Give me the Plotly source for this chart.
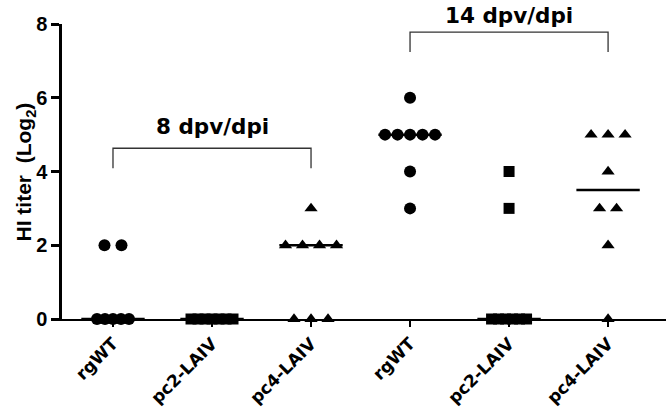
import numpy as np
import plotly.graph_objects as go

# ---- data ----
categories = ["rgWT", "pc2-LAIV", "pc4-LAIV", "rgWT", "pc2-LAIV", "pc4-LAIV"]
rgwt_8 = [2, 2, 0, 0, 0, 0, 0]
pc2_8 = [0, 0, 0, 0, 0, 0, 0]
pc4_8 = [3, 2, 2, 2, 2, 0, 0, 0]
rgwt_14 = [6, 5, 5, 5, 5, 5, 4, 3]
pc2_14 = [4, 3, 0, 0, 0, 0, 0, 0]
pc4_14 = [5, 5, 5, 4, 3, 3, 2, 0]
groups = [rgwt_8, pc2_8, pc4_8, rgwt_14, pc2_14, pc4_14]
symbols = ["circle", "square", "triangle-up", "circle", "square", "triangle-up"]
bracket_labels = ["8 dpv/dpi", "14 dpv/dpi"]
y_ticks = [0, 2, 4, 6, 8]

# ---- style ----
PX_PER_UNIT = 99.0
default_spacing_px = 17
spacing_override_px = {(0, 0): 8, (1, 0): 7, (3, 5): 12.5, (4, 0): 7}
marker_sizes = {"circle": 12, "square": 11, "triangle-up": 11.5}
FONT_WIDE = "DejaVu Sans, Verdana, sans-serif"
FONT = "Liberation Sans, Arial, sans-serif"


def spread(gi, values):
    vals = np.array(values, dtype=float)
    xs = np.zeros(len(vals))
    for v in np.unique(vals):
        idx = np.where(vals == v)[0]
        n = len(idx)
        sp = spacing_override_px.get((gi, v), default_spacing_px) / PX_PER_UNIT
        xs[idx] = gi + (np.arange(n) - (n - 1) / 2) * sp
    return xs, vals


fig = go.Figure()
# median lines first, so points sit on top of them
for gi, vals in enumerate(groups):
    med = float(np.median(vals))
    fig.add_trace(go.Scatter(
        x=[gi - 0.32, gi + 0.32], y=[med, med], mode="lines",
        cliponaxis=med <= 0, showlegend=False,
        line=dict(color="black", width=2.5)))
for gi, (vals, sym) in enumerate(zip(groups, symbols)):
    xs, ys = spread(gi, vals)
    fig.add_trace(go.Scatter(
        x=xs, y=ys, mode="markers", cliponaxis=False, showlegend=False,
        marker=dict(symbol=sym, size=marker_sizes[sym], color="black",
                    line=dict(width=0))))

# brackets (x0, x1, top, bottom in data units; label centre in paper units)
brackets = [(0, 2, 4.63, 4.09, 0.651), (3, 5, 7.78, 7.24, 1.0305)]
for (x0, x1, ytop, ybot, ytxt), lab in zip(brackets, bracket_labels):
    fig.add_trace(go.Scatter(
        x=[x0, x0, x1, x1], y=[ybot, ytop, ytop, ybot], mode="lines",
        cliponaxis=False, showlegend=False, hoverinfo="skip",
        line=dict(color="#333333", width=1.3)))
    fig.add_annotation(x=(x0 + x1) / 2, y=ytxt, xref="x", yref="paper",
                       text="<b>%s</b>" % lab, showarrow=False,
                       xanchor="center", yanchor="middle",
                       font=dict(family=FONT_WIDE, size=21.5, color="black"))

fig.add_annotation(x=-0.0613, y=0.5, xref="paper", yref="paper",
                   text="<b>HI titer &nbsp;(Log<sub>2</sub>)</b>", textangle=-90,
                   showarrow=False, xanchor="center", yanchor="middle",
                   font=dict(family=FONT, size=21, color="black"))

fig.update_layout(
    width=666, height=420,
    margin=dict(l=62, r=0, t=24, b=101),
    paper_bgcolor="white", plot_bgcolor="white",
    font=dict(family=FONT, color="black"),
    xaxis=dict(range=[-0.515, 5.585], tickmode="array",
               tickvals=list(range(len(categories))),
               ticktext=["<b>%s</b>" % c for c in categories],
               tickangle=-45, tickfont=dict(size=17, family=FONT_WIDE, color="black"),
               showline=True, linecolor="black", linewidth=2,
               ticks="outside", ticklen=6, tickwidth=1.5, tickcolor="black",
               showgrid=False, zeroline=False, layer="below traces",
               automargin=False),
    yaxis=dict(range=[0, 8], tickmode="array", tickvals=y_ticks,
               ticktext=["<b>%d</b>" % v for v in y_ticks],
               tickfont=dict(size=20, family=FONT, color="black"),
               showline=True, linecolor="black", linewidth=2.5,
               ticks="outside", ticklen=8, tickwidth=2.5, tickcolor="black",
               showgrid=False, zeroline=False, layer="below traces",
               automargin=False),
)

fig.write_html("out.html",
               config={"displayModeBar": False},
               post_script="document.body.style.margin='0';"
                           "document.body.style.overflow='hidden';")
